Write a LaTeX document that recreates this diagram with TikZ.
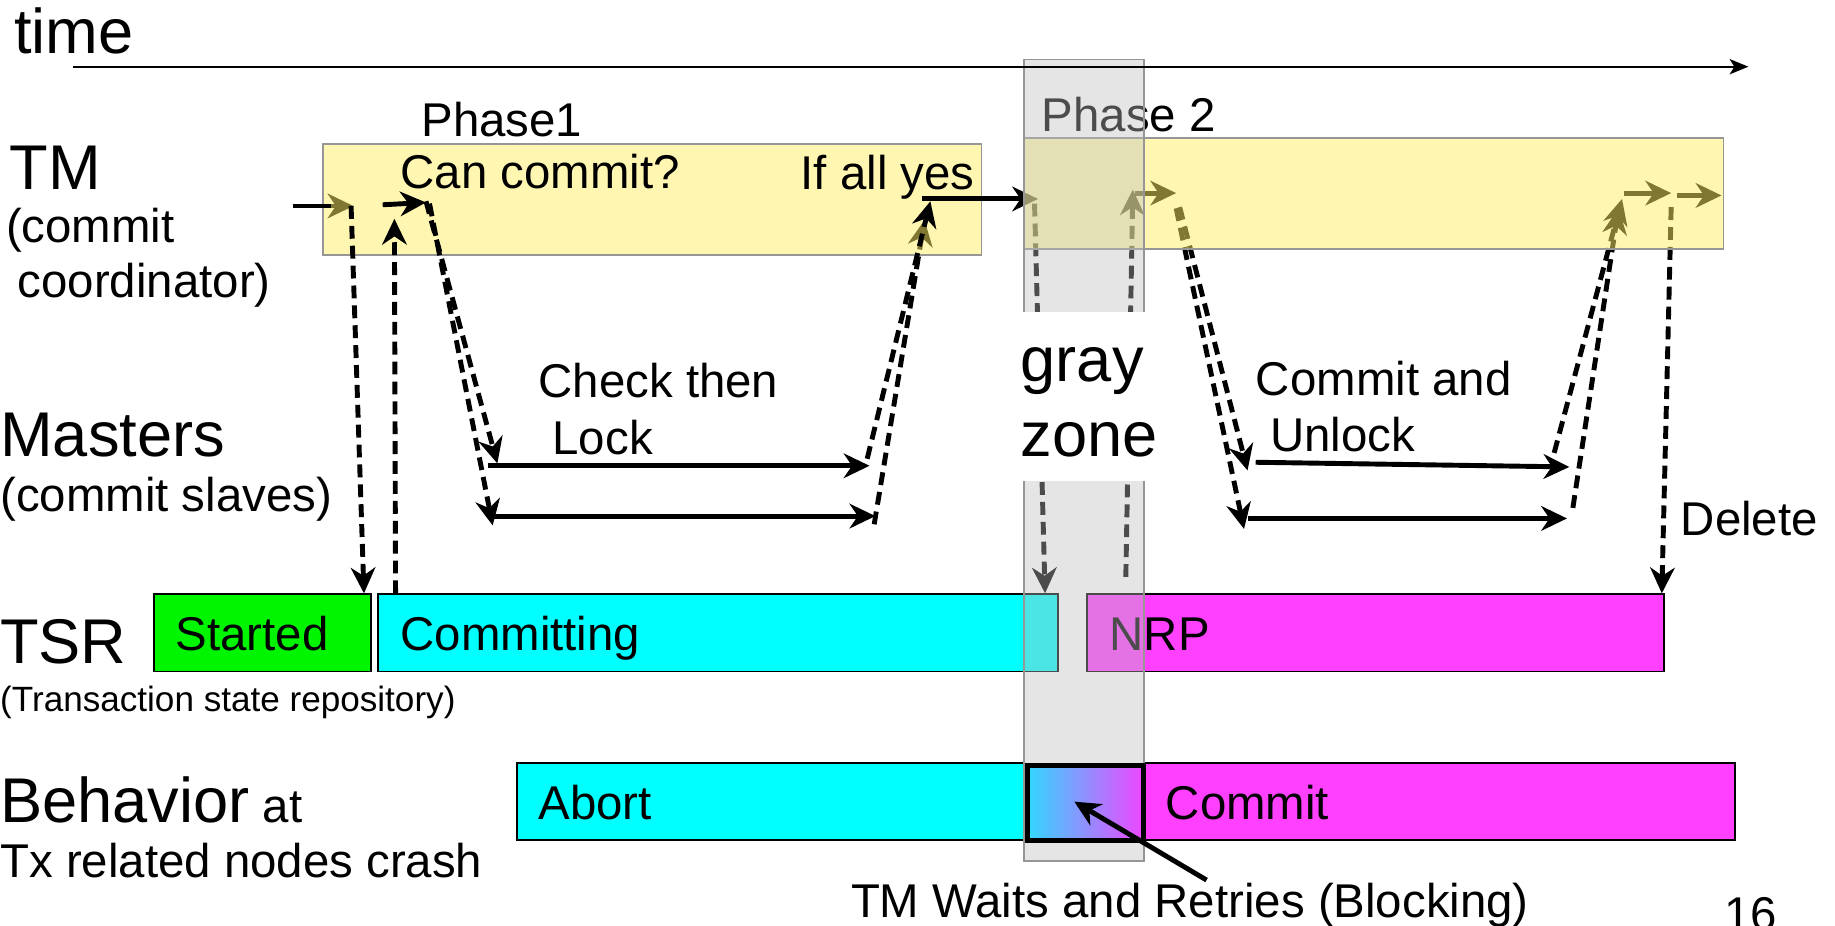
\documentclass[tikz,border=0pt]{standalone}
\usepackage{fontspec}
\setmainfont{Liberation Sans}
\usetikzlibrary{arrows.meta}
\definecolor{yel}{RGB}{255,240,100}
\definecolor{cy}{RGB}{0,255,255}
\definecolor{mg}{RGB}{255,64,255}
\definecolor{gn}{RGB}{0,245,0}
\definecolor{zonegray}{RGB}{190,190,190}
\definecolor{edgegray}{RGB}{150,150,150}
\definecolor{gradl}{RGB}{50,215,255}
\definecolor{gradr}{RGB}{240,70,255}
\tikzset{
  big/.style={font=\fontsize{54}{60}\selectfont, inner sep=0pt, anchor=base west},
  mid/.style={font=\fontsize{40.5}{48}\selectfont, inner sep=0pt, anchor=base west},
  small/.style={font=\fontsize{30}{36}\selectfont, inner sep=0pt, anchor=base west},
  msg/.style={line width=4.2pt, -{Stealth[length=22pt,width=21pt,inset=7pt]}},
  dmsg/.style={msg, dash pattern=on 11pt off 6pt},
  phasebox/.style={fill=yel, fill opacity=0.5, draw=edgegray, draw opacity=1, line width=1.5pt, inner sep=0pt, anchor=north west},
  statebox/.style={draw=black, line width=1.5pt, inner sep=0pt, anchor=north west},
}
\begin{document}
\begin{tikzpicture}[x=1pt,y=-1pt]
\useasboundingbox (0,0) rectangle (1568,791);
% ---------- coordinates ----------
\coordinate (t0) at (62,57);   \coordinate (t1) at (1494,57);
\coordinate (a0) at (250,176); \coordinate (a1) at (302,176); \coordinate (a2) at (283,176);
\coordinate (b0) at (300,176); \coordinate (b1) at (311,507);
\coordinate (c0) at (338,507); \coordinate (c1) at (337,187);
\coordinate (d0) at (327,175); \coordinate (d1) at (364,173);
\coordinate (e0) at (364,172); \coordinate (e1) at (425,396);
\coordinate (e3) at (367,174); \coordinate (e2) at (421,449);
\coordinate (h1a) at (417,398); \coordinate (h1b) at (743,398);
\coordinate (h2a) at (420,441); \coordinate (h2b) at (748,441);
\coordinate (r1a) at (741,392); \coordinate (r1b) at (795,172);
\coordinate (r2a) at (747,448); \coordinate (r2b) at (790,188);
\coordinate (y0) at (788,170);  \coordinate (y1) at (887,170);
\coordinate (f0) at (884,174);  \coordinate (f1) at (893,507);
\coordinate (g0) at (962,493);  \coordinate (g1) at (968,162);
\coordinate (s0) at (970,165);  \coordinate (s1) at (1005,165);
\coordinate (i0) at (1008,177); \coordinate (i1) at (1066,402);
\coordinate (i2) at (1005,178); \coordinate (i3) at (1063,452);
\coordinate (h3a) at (1073,395); \coordinate (h3b) at (1341,399);
\coordinate (h4a) at (1066,443); \coordinate (h4b) at (1339,443);
\coordinate (j0) at (1328,387); \coordinate (j1) at (1386,170);
\coordinate (j2) at (1344,434); \coordinate (j3) at (1383,178);
\coordinate (k0) at (1388,165); \coordinate (k1) at (1428,165);
\coordinate (k2) at (1433,167); \coordinate (k3) at (1471,167);
\coordinate (l0) at (1428,177); \coordinate (l1) at (1420,507);
\coordinate (w0) at (1031,752); \coordinate (w1) at (918,685);
% ---------- arrows under Phase 1 box ----------
\draw[msg] (a0) -- (a1);
\draw[dmsg] (r2a) -- (r2b);
% ---------- Phase 1 box ----------
\node[phasebox, minimum width=563pt, minimum height=95pt] (p1) at (275,122) {};
\draw[line width=4.2pt] (a0) -- (a2);
\draw[dmsg] (b0) -- (b1);
\draw[dmsg] (c0) -- (c1);
\draw[msg] (d0) -- (d1);
\draw[dmsg] (e0) -- (e1);
\draw[dmsg] (e3) -- (e2);
\draw[msg] (h1a) -- (h1b);
\draw[msg] (h2a) -- (h2b);
\draw[dmsg] (r1a) -- (r1b);
% ---------- arrows under Phase 2 box ----------
\draw[msg] (y0) -- (y1);
\draw[dmsg] (f0) -- (f1);
\draw[dmsg] (g0) -- (g1);
\draw[msg] (s0) -- (s1);
\draw[dmsg] (i0) -- (i1);
\draw[dmsg] (i2) -- (i3);
\draw[msg] (h3a) -- (h3b);
\draw[msg] (h4a) -- (h4b);
\draw[dmsg] (j0) -- (j1);
\draw[dmsg] (j2) -- (j3);
\draw[msg] (k0) -- (k1);
\draw[msg] (k2) -- (k3);
\draw[dmsg] (l0) -- (l1);
% ---------- Phase 2 box ----------
\node[phasebox, minimum width=598pt, minimum height=95pt] (p2) at (874,117) {};
% ---------- state boxes ----------
\node[statebox, fill=gn, minimum width=185pt, minimum height=66pt] (started) at (131,507) {};
\node[statebox, fill=cy, minimum width=581pt, minimum height=66pt] (committing) at (322,507) {};
\node[statebox, fill=mg, minimum width=493pt, minimum height=66pt] (nrp) at (928,507) {};
\node[statebox, fill=cy, minimum width=433pt, minimum height=66pt] (abort) at (441,651) {};
\node[statebox, fill=mg, minimum width=505pt, minimum height=66pt] (commitb) at (977,651) {};
% ---------- texts ----------
\node[big] (ttime) at (12,46) {time};
\node[big] (ttm) at (8,162) {TM};
\node[mid] (tcc1) at (5,207) {(commit};
\node[mid] (tcc2) at (15,254) {coordinator)};
\node[big] (tmas) at (0,390) {Masters};
\node[mid] (tslv) at (0,437) {(commit slaves)};
\node[big] (ttsr) at (0,567) {TSR};
\node[small] (ttsrd) at (0,608) {(Transaction state repository)};
\node[big] (tbeh) at (0,703) {Behavior{\fontsize{40.5}{48}\selectfont\ at}};
\node[mid] (ttx) at (0,750) {Tx related nodes crash};
\node[mid] (tph1) at (360,117) {Phase1};
\node[mid] (tcan) at (342,161) {Can commit?};
\node[mid] (tyes) at (684,162) {If all yes};
\node[mid] (tph2) at (890,112) {Phase 2};
\node[mid] (tchk) at (460,340) {Check then};
\node[mid] (tlck) at (472,388) {Lock};
\node[mid] (tcma) at (1073,338) {Commit and};
\node[mid] (tunl) at (1085,386) {Unlock};
\node[mid] (tdel) at (1436,458) {Delete};
\node[mid] (tsta) at (150,556) {Started};
\node[mid] (tcom) at (342,556) {Committing};
\node[mid] (tnrp) at (948,556) {NRP};
\node[mid] (tabo) at (460,700) {Abort};
\node[mid] (tcmt) at (996,700) {Commit};
% ---------- gray zone overlay ----------
\node[draw=edgegray, line width=1.5pt, fill=zonegray, fill opacity=0.4, draw opacity=1, inner sep=0pt, anchor=north west, minimum width=103pt, minimum height=685pt] (zone) at (874,50) {};
\node[fill=white, inner sep=0pt, anchor=north west, minimum width=108pt, minimum height=145pt] (zonelbl) at (872,266) {};
\node[big] (tgray) at (872,326) {gray};
\node[big] (tzone) at (872,390) {zone};
% ---------- blocking box ----------
\node[draw=black, line width=4.5pt, left color=gradl, right color=gradr, inner sep=0pt, anchor=north west, minimum width=99pt, minimum height=64pt] (block) at (876,652) {};
\draw[msg] (w0) -- (w1);
\node[mid] (twait) at (727,784) {TM Waits and Retries (Blocking)};
\node[mid] (tnum) at (1473,795) {16};
% ---------- time axis ----------
\draw[line width=2pt, -{Stealth[length=16pt,width=13pt,inset=4pt]}] (t0) -- (t1);
\end{tikzpicture}
\end{document}
